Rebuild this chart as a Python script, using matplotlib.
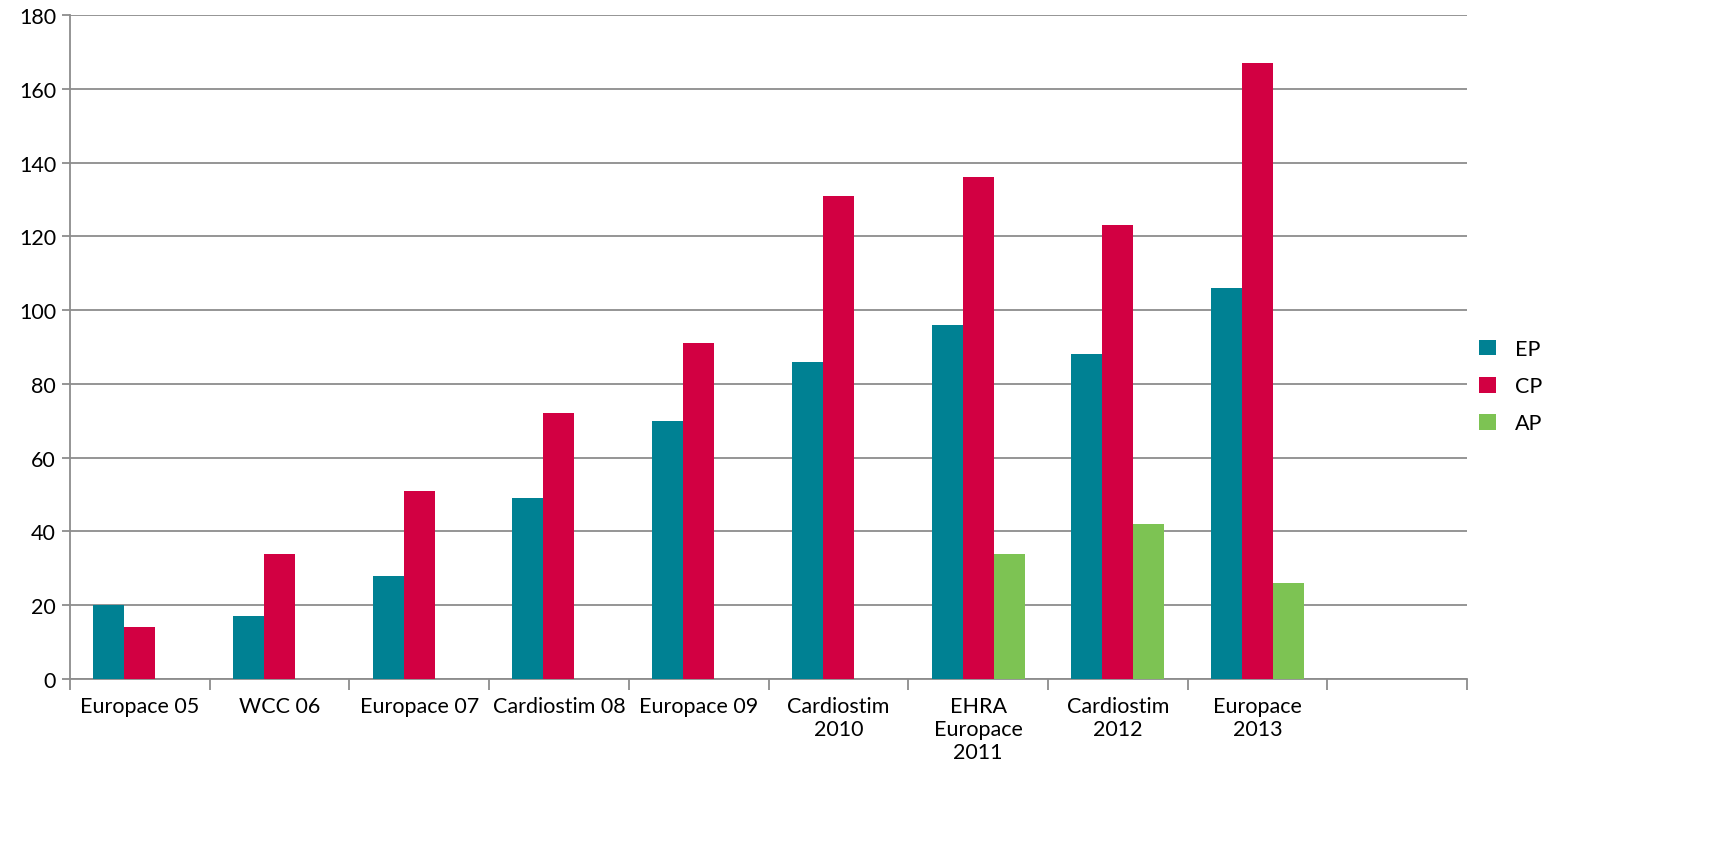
import matplotlib
matplotlib.use("Agg")
import matplotlib.pyplot as plt
import numpy as np

categories = ["Europace 05", "WCC 06", "Europace 07", "Cardiostim 08", "Europace 09",
              "Cardiostim\n2010", "EHRA\nEuropace\n2011", "Cardiostim\n2012", "Europace\n2013", ""]
ep = [20, 17, 28, 49, 70, 86, 96, 88, 106, 0]
cp = [14, 34, 51, 72, 91, 131, 136, 123, 167, 0]
ap = [0, 0, 0, 0, 0, 0, 34, 42, 26, 0]

plt.rcParams['font.family'] = ['Lato', 'DejaVu Sans']

fig = plt.figure(figsize=(17.09, 8.53), dpi=100)
ax = fig.add_axes([70 / 1709, 1 - 680 / 853, (1467 - 70) / 1709, (680 - 16) / 853])

x = np.arange(len(categories))
w = 0.222
ax.bar(x - w, ep, w, color='#008193', label='EP', zorder=3)
ax.bar(x, cp, w, color='#d20042', label='CP', zorder=3)
ax.bar(x + w, ap, w, color='#7dc353', label='AP', zorder=3)

ax.set_xlim(-0.5, len(categories) - 0.5)
ax.set_ylim(0, 180)
ax.set_yticks(range(0, 181, 20))
ax.yaxis.grid(True, color='#8c8c8c', linewidth=1.3, zorder=0)

ax.set_xticks(x)
ax.set_xticklabels(categories, fontsize=15.5, va='top', linespacing=1.2)
ax.set_xticks(np.arange(-0.5, len(categories), 1), minor=True)
ax.tick_params(axis='x', which='major', length=0, pad=12)
ax.tick_params(axis='x', which='minor', length=8, width=1.3, color='#8c8c8c', direction='out')
ax.tick_params(axis='y', length=6, width=1.3, color='#8c8c8c', labelsize=15.5, pad=4)

for s in ['top', 'right']:
    ax.spines[s].set_visible(False)
for s in ['left', 'bottom']:
    ax.spines[s].set_color('#8c8c8c')
    ax.spines[s].set_linewidth(1.3)

ax.legend(loc='center left', bbox_to_anchor=(0.995, 0.441), frameon=False, fontsize=15.5,
          handlelength=0.75, handleheight=0.75, labelspacing=0.8, handletextpad=0.9)

fig.savefig('out.png', dpi=100)
